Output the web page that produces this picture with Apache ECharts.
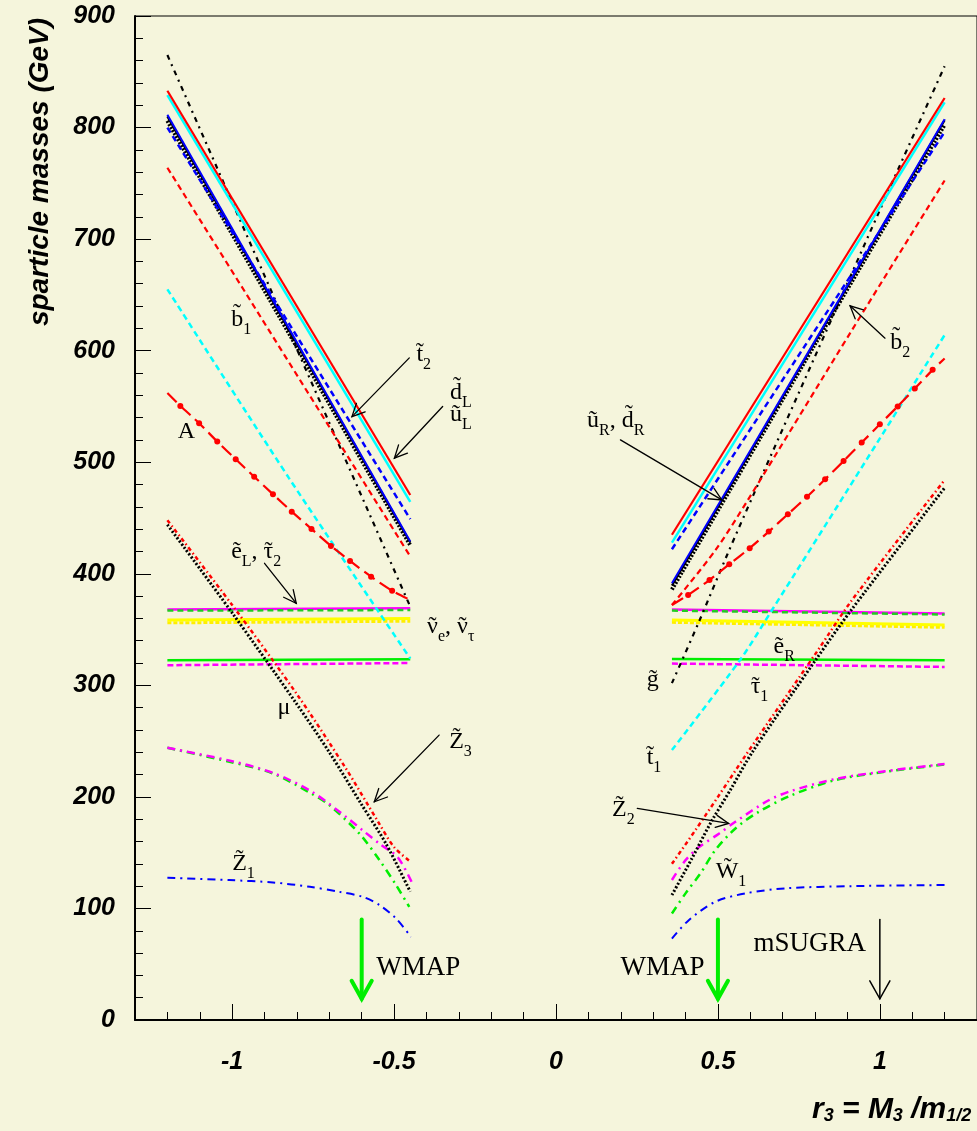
<!DOCTYPE html>
<html><head><meta charset="utf-8">
<script src="https://cdn.jsdelivr.net/npm/echarts@6/dist/echarts.min.js"></script>
<style>html,body{margin:0;padding:0;background:#f5f5dc}#c{width:977px;height:1131px}</style>
</head><body><div id="c"></div>
<script>
// ---------- axis ticks ----------
const xMajorTicks = [-1, -0.5, 0, 0.5, 1];
const xMinorTicks = [-1.2,-1.1,-0.9,-0.8,-0.7,-0.6,-0.4,-0.3,-0.2,-0.1,0.1,0.2,0.3,0.4,0.6,0.7,0.8,0.9,1.1,1.2];
const yTickLabels = [0,100,200,300,400,500,600,700,800,900];

// ---------- left branch (r3 < 0) ----------
const gluinoL = [[-1.2,865],[-0.45,370.5]];
const redSolidL = [[-1.2,833],[-0.45,470.6]];
const cyanSolidL = [[-1.2,829],[-0.45,464.5]];
const blueSolidL = [[-1.2,811.5],[-0.45,429]];
const blackSolidL = [[-1.2,810],[-0.45,428]];
const blackThickL = [[-1.2,806],[-0.45,425.5]];
const blueDashedL = [[-1.2,800],[-0.45,449]];
const redDashedL = [[-1.2,764],[-0.45,415.5]];
const cyanDashedL = [[-1.2,655],[-0.825,486],[-0.45,324]];
const higgsAL = [[-1.2,562],[-1.16,550.5],[-1.102,535],[-1.046,518.5],[-0.989,502.7],[-0.932,487],[-0.874,471.3],[-0.816,455.7],[-0.755,440.2],[-0.695,425],[-0.636,411.5],[-0.571,397.4],[-0.506,384.8],[-0.45,376.5]];
const redDottedL = [[-1.2,448],[-1.0,372],[-0.8,292],[-0.65,226],[-0.55,178],[-0.5,155],[-0.45,142]];
const muL = [[-1.2,444],[-1.0,365],[-0.8,283],[-0.7,240],[-0.6,193],[-0.525,158],[-0.45,115]];
const magSolidL = [[-1.2,368],[-0.45,369]];
const greenDashedL = [[-1.2,367],[-0.45,367.5]];
const yellowSolidL = [[-1.2,358.5],[-0.45,360]];
const yellowDashedL = [[-1.2,356],[-0.45,357.5]];
const greenSolidL = [[-1.2,322.5],[-0.45,323.3]];
const magDashedL = [[-1.2,318],[-0.45,320]];
const greenDDL = [[-1.2,244],[-1.008,231.5],[-0.874,221],[-0.756,203],[-0.7,192.6],[-0.607,167],[-0.545,143.3],[-0.494,121],[-0.453,101.4]];
const magDDL = [[-1.2,244],[-1.0,232],[-0.874,221.5],[-0.756,205],[-0.648,182],[-0.597,170],[-0.545,158],[-0.489,146],[-0.443,122]];
const blueDDL = [[-1.2,127.5],[-1.008,125.4],[-0.874,123.3],[-0.76,119.4],[-0.669,114.9],[-0.597,110.4],[-0.545,103],[-0.494,91],[-0.448,74.5]];

// ---------- right branch (r3 > 0) ----------
const gluinoR = [[0.358,302],[0.44,356],[0.53,418],[0.61,471],[0.8,595],[1.0,726],[1.2,855]];
const redSolidR = [[0.358,435],[1.2,826.5]];
const cyanSolidR = [[0.358,428],[1.2,822.5]];
const blueSolidR = [[0.358,391.5],[0.8,609],[1.2,807.5]];
const blackSolidR = [[0.358,389.5],[0.8,608],[1.2,806.5]];
const blackThickR = [[0.358,386],[0.8,606],[1.2,802.5]];
const blueDashedR = [[0.358,422],[1.2,796]];
const redDashedR = [[0.358,372],[0.492,421],[0.59,465],[0.913,618],[1.2,752.5]];
const cyanDashedR = [[0.358,242],[0.569,323],[0.667,367.5],[0.9,475],[1.2,614]];
const higgsAR = [[0.358,372],[0.408,381],[0.474,394.4],[0.535,408.5],[0.598,422.9],[0.657,437.8],[0.716,453.4],[0.775,469],[0.831,484.7],[0.888,501],[0.944,517.6],[1.0,534],[1.055,550],[1.108,566],[1.163,582.8],[1.2,593]];
const redDottedR = [[0.358,140],[0.43,170],[0.5,200],[0.585,237],[0.81,332],[0.913,376],[1.2,484]];
const muR = [[0.358,112],[0.42,145],[0.48,178],[0.54,207],[0.606,240],[0.8,322],[0.913,368],[1.2,477]];
const magSolidR = [[0.358,368],[1.2,364.5]];
const greenDashedR = [[0.358,367],[1.2,363.5]];
const yellowSolidR = [[0.358,358.5],[1.2,354]];
const yellowDashedR = [[0.358,356.5],[1.2,352]];
const greenSolidR = [[0.358,323.5],[1.2,322.5]];
const magDashedR = [[0.358,319.5],[1.2,316.5]];
const greenDDR = [[0.358,95.5],[0.4,113.5],[0.446,131.4],[0.492,152.3],[0.554,171.7],[0.626,186.6],[0.728,201.6],[0.862,215],[1.016,222.5],[1.2,229]];
const magDDR = [[0.358,125.5],[0.4,143.3],[0.442,155],[0.503,167],[0.554,177.7],[0.657,197],[0.728,205.5],[0.862,216],[1.016,223],[1.2,229.5]];
const blueDDR = [[0.358,73],[0.41,89.5],[0.492,106],[0.585,113.5],[0.708,118],[0.913,120],[1.2,121]];

// ---------- annotations (data coordinates) ----------
// parts: m = main, g = main letter(s) with a tilde over the last one, s = subscript, w = large text
const labelParts = [
  [['m','b̃'],['s','1']], [['m','t̃'],['s','2']], [['m','d̃'],['s','L']], [['m','ũ'],['s','L']], [['m','A']],
  [['m','ẽ'],['s','L'],['g',', τ'],['s','2']], [['g','ν'],['s','e'],['g',', ν'],['s','τ']], [['m','μ']],
  [['m','Z̃'],['s','3']], [['m','Z̃'],['s','1']], [['m','W̃'],['s','1']], [['m','Z̃'],['s','2']],
  [['m','t̃'],['s','1']], [['m','g̃']], [['g','τ'],['s','1']], [['m','ẽ'],['s','R']],
  [['m','ũ'],['s','R'],['m',', d̃'],['s','R']], [['m','b̃'],['s','2']],
  [['w','WMAP']], [['w','WMAP']], [['w','mSUGRA']]
];
const labelAt = [[-1.003,620.4],[-0.431,589.1],[-0.327,555],[-0.327,535.2],[-1.168,520],[-1.003,412.4],[-0.398,345.6],[-0.86,272.5],[-0.33,242],[-1.0,132.6],[0.493,125.4],[0.173,181],[0.28,227.8],[0.28,297.6],[0.601,291.3],[0.672,327.2],[0.096,529.9],[1.032,599.8],[-0.555,38.7],[0.199,38.7],[0.61,59.9]];
const arrowFrom = [[-0.453,593.5],[-0.35,549.9],[0.199,520],[1.016,611.2],[-0.9,409.4],[-0.361,255.4],[0.251,189.7]];
const arrowTo   = [[-0.63,540.9],[-0.499,503.6],[0.512,466.2],[0.908,640.2],[-0.802,373.5],[-0.561,195.6],[0.533,176.2]];
const bigArrowX = [-0.6, 0.5, 1.0];
const bigArrowY = [90, 19];

// ---------- styles: data, colour, width, dash, smooth ----------
const curves = [
  [magDashedL,'#ff00ff',2.5,[6,3]],[magDashedR,'#ff00ff',2.5,[6,3]],
  [greenSolidL,'#00ee00',2.5,'solid'],[greenSolidR,'#00ee00',2.5,'solid'],
  [yellowDashedL,'#ffee00',3,[4,2]],[yellowDashedR,'#ffee00',3,[4,2]],
  [yellowSolidL,'#ffff00',3,'solid'],[yellowSolidR,'#ffff00',3,'solid'],
  [magSolidL,'#ff00ff',2.5,'solid'],[magSolidR,'#ff00ff',2.5,'solid'],
  [greenDashedL,'#22cc22',2.5,[6,4]],[greenDashedR,'#22cc22',2.5,[6,4]],
  [blueDDL,'#0000ff',2,[8,5,2,5],0.3],[blueDDR,'#0000ff',2,[8,5,2,5],0.3],
  [greenDDL,'#00ee00',2.5,[8,5,2,5],0.3],[greenDDR,'#00ee00',2.5,[8,5,2,5],0.3],
  [magDDL,'#ff00ff',2.5,[8,5,2,5],0.3],[magDDR,'#ff00ff',2.5,[8,5,2,5],0.3],
  [muL,'#000000',3,[2,2],0.3],[muR,'#000000',3,[2,2],0.3],
  [redDottedL,'#ff0000',2.5,[4,3,1.5,3],0.3],[redDottedR,'#ff0000',2.5,[4,3,1.5,3],0.3],
  [cyanDashedL,'#00ffff',2.5,[6,4],0.3],[cyanDashedR,'#00ffff',2.5,[6,4],0.3],
  [gluinoL,'#000000',2.2,[5,5,2,5]],[gluinoR,'#000000',2.2,[5,5,2,5],0.3],
  [redDashedL,'#ff0000',2.2,[6,4]],[redDashedR,'#ff0000',2.2,[6,4],0.3],
  [blackThickL,'#000000',4,[2,1.5]],[blackThickR,'#000000',4,[2,1.5],0.3],
  [blackSolidL,'#000000',2.2,'solid'],[blackSolidR,'#000000',2.2,'solid',0.3],
  [blueSolidL,'#0000ff',2,'solid'],[blueSolidR,'#0000ff',2,'solid',0.3],
  [blueDashedL,'#0000ff',2.5,[6,4]],[blueDashedR,'#0000ff',2.5,[6,4]],
  [cyanSolidL,'#00ffff',2.5,'solid'],[cyanSolidR,'#00ffff',2.5,'solid'],
  [redSolidL,'#ff0000',2.2,'solid'],[redSolidR,'#ff0000',2.2,'solid']
];

const series = curves.map(c => ({
  type:'line', data:c[0], showSymbol:false, silent:true, animation:false,
  smooth: c[4] || false,
  lineStyle:{color:c[1], width:c[2], type:c[3]}, z:3
}));
[higgsAL, higgsAR].forEach(d => series.push({
  type:'line', silent:true, animation:false, z:3, smooth:0.2,
  data: d.map((p,i) => (i===0||i===d.length-1) ? {value:p, symbol:'none'} : p),
  symbol:'circle', symbolSize:6, showSymbol:true,
  itemStyle:{color:'#ff0000', borderWidth:0},
  lineStyle:{color:'#ff0000', width:2.2, type:[13,6]}
}));

const tickFont = {fontSize:25, fontWeight:'bold', fontStyle:'italic', fontFamily:'Liberation Sans, Arial', color:'#000'};

const chart = echarts.init(document.getElementById('c'), null, {renderer:'canvas'});
chart.setOption({
  backgroundColor:'#f5f5dc',
  animation:false,
  grid:{left:135, top:16, width:844, height:1004, show:true, borderColor:'#000', borderWidth:1, backgroundColor:'transparent'},
  xAxis:[
    {type:'value', min:-1.3, max:1.3, position:'bottom',
     axisLine:{show:true, onZero:false, lineStyle:{color:'#000', width:2}},
     axisTick:{show:true, inside:true, length:16, customValues:xMajorTicks, lineStyle:{color:'#000', width:1}},
     axisLabel:Object.assign({show:true, margin:30, customValues:xMajorTicks}, tickFont),
     splitLine:{show:false}},
    {type:'value', min:-1.3, max:1.3, position:'bottom',
     axisLine:{show:false, onZero:false},
     axisTick:{show:true, inside:true, length:8, customValues:xMinorTicks, lineStyle:{color:'#000', width:1}},
     axisLabel:{show:false}, splitLine:{show:false}}
  ],
  yAxis:{type:'value', min:yTickLabels[0], max:yTickLabels[yTickLabels.length-1], interval:100, position:'left',
     axisLine:{show:true, onZero:false, lineStyle:{color:'#000', width:2}},
     axisTick:{show:true, inside:true, length:16, lineStyle:{color:'#000', width:1}},
     minorTick:{show:true, splitNumber:5, length:8, lineStyle:{color:'#000', width:1}},
     axisLabel:Object.assign({margin:20}, tickFont),
     splitLine:{show:false}},
  series:series
});

// ---------- annotations ----------
function P(p){ return chart.convertToPixel({seriesIndex:0}, p); }
const serifName = 'Liberation Serif';
const serif = '"Liberation Serif", "Times New Roman", serif';
const FS = {m:24, g:24, s:16, w:27};
const mctx = document.createElement('canvas').getContext('2d');
function tw(k, t){ mctx.font = FS[k] + 'px ' + serif; return mctx.measureText(t).width; }
const g = [];
function txt(x, y, t, f, align){
  g.push({type:'text', x:x, y:y, silent:true, z:10,
    style:{text:t, fontSize:f, fontFamily:serifName, fill:'#000', lineHeight:f,
      align:align||'left', verticalAlign:'top', textAlign:align||'left', textVerticalAlign:'top'}});
}
labelParts.forEach((parts, i) => {
  const p = P(labelAt[i]);
  let x = p[0];
  const base = p[1];
  parts.forEach(([k, t]) => {
    const f = FS[k];
    const bl = k === 's' ? base + 7.5 : base;
    txt(x, bl - 0.8375*f, t, f);
    const w = tw(k, t);
    if (k === 'g') {
      const wl = tw(k, t.slice(-1));
      txt(x + w - wl/2, bl - 0.8375*f, '˜', f, 'center');
    }
    x += w;
  });
});
function arrow(a, b, color, w, L, ang){
  const dx = b[0]-a[0], dy = b[1]-a[1];
  const th = Math.atan2(dy, dx);
  const h1 = [b[0]-L*Math.cos(th-ang), b[1]-L*Math.sin(th-ang)];
  const h2 = [b[0]-L*Math.cos(th+ang), b[1]-L*Math.sin(th+ang)];
  const st = {stroke:color, lineWidth:w, lineCap:'round'};
  g.push({type:'line', silent:true, z:10, shape:{x1:a[0],y1:a[1],x2:b[0],y2:b[1]}, style:st});
  g.push({type:'polyline', silent:true, z:10, shape:{points:[h1,b,h2]}, style:Object.assign({fill:null}, st)});
}
arrowFrom.forEach((f,i) => arrow(P(f), P(arrowTo[i]), '#000', 1.3, 14, 0.45));
bigArrowX.forEach((x,i) => {
  const col = i < 2 ? '#00ee00' : '#000';
  const w = i < 2 ? 4 : 1.5;
  arrow(P([x, bigArrowY[0]]), P([x, bigArrowY[1]]), col, w, 20.6, 0.51);
});
// axis titles
g.push({type:'text', x:40, y:172, rotation:Math.PI/2, silent:true, z:10,
  style:{text:'sparticle masses (GeV)', fontSize:28, fontWeight:'bold', fontStyle:'italic', fontFamily:'Liberation Sans', fill:'#000',
    align:'center', verticalAlign:'middle', textAlign:'center', textVerticalAlign:'middle'}});
const tb = {fontSize:30, lineHeight:30, fontWeight:'bold', fontStyle:'italic', fontFamily:'Liberation Sans', color:'#000', verticalAlign:'top', padding:[0,0,9,0]};
const ts = {fontSize:18, lineHeight:18, fontWeight:'bold', fontStyle:'italic', fontFamily:'Liberation Sans', color:'#000', verticalAlign:'bottom'};
g.push({type:'text', x:812, y:1095, silent:true, z:10,
  style:{text:'{b|r}{s|3}{b| = M}{s|3}{b| /m}{s|1/2}', rich:{b:tb, s:ts}, align:'left', verticalAlign:'top', textAlign:'left', textVerticalAlign:'top'}});
chart.setOption({graphic:g});
</script></body></html>
